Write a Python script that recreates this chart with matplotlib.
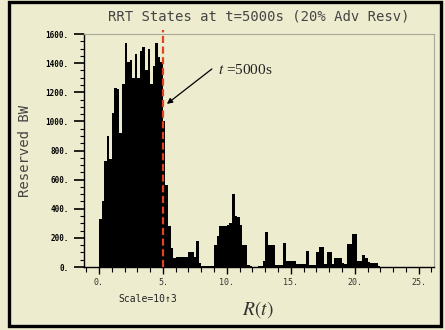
import numpy as np
import matplotlib as mpl
import matplotlib.pyplot as plt
import matplotlib.patches as patches
from matplotlib.ticker import MultipleLocator, FuncFormatter

mpl.rcParams.update({'mathtext.fontset': 'stix'})

##########################################################################
# histogram of reserved BW vs R(t), bins of 0.2 (x 10^3), starting at 0
bin_start = 0.0
bin_width = 0.2
reserved_bw = [
    330, 450, 730, 900, 740, 1060, 1230, 1220, 920, 1260,      # 0.0 - 1.8
    1540, 1410, 1420, 1300, 1460, 1300, 1480, 1510, 1350, 1500,  # 2.0 - 3.8
    1260, 1380, 1540, 1440, 1410, 1000, 560, 280, 130, 60,     # 4.0 - 5.8
    70, 70, 70, 70, 70, 105, 105, 70, 180, 25,                 # 6.0 - 7.8
    10, 8, 8, 8, 10, 150, 210, 280, 280, 280,                  # 8.0 - 9.8
    290, 300, 500, 350, 345, 290, 150, 150, 15, 10,            # 10.0 - 11.8
    0, 0, 5, 5, 40, 240, 150, 150, 150, 15,                    # 12.0 - 13.8
    15, 15, 165, 40, 40, 40, 40, 20, 20, 20,                   # 14.0 - 15.8
    20, 110, 15, 15, 15, 100, 140, 140, 20, 105,               # 16.0 - 17.8
    105, 20, 60, 60, 60, 25, 20, 160, 160, 225,                # 18.0 - 19.8
    225, 40, 40, 80, 60, 35, 25, 25, 25, 10,                   # 20.0 - 21.8
]
x_major_ticks = [0, 5, 10, 15, 20, 25]
y_major_ticks = [0, 200, 400, 600, 800, 1000, 1200, 1400, 1600]
t_mark = 5.0

title = "RRT States at t=5000s (20% Adv Resv)"
ylabel = "Reserved BW"
xlabel = r"$R(t)$"
scale_note = "Scale=10\u21913"
annot = r"$t$ =5000s"

bg = '#eeecce'
mono = ['DejaVu Sans Mono', 'DejaVu Sans']

##########################################################################
fig = plt.figure(figsize=(4.45, 3.30), dpi=100)
fig.patch.set_facecolor(bg)

ax = fig.add_axes([0.1888, 0.1909, 0.7865, 0.706])
ax.set_facecolor(bg)

edges = bin_start + bin_width * np.arange(len(reserved_bw))
ax.bar(edges, reserved_bw, width=bin_width, align='edge', color='black', linewidth=0)

# red dashed marker at t=5000s
ax.plot([t_mark, t_mark], [0, 1628], color='#e2431f', lw=1.6, dashes=(3.2, 1.6), clip_on=False, zorder=5)

ax.annotate("", xy=(5.31, 1120), xytext=(8.83, 1360),
            arrowprops=dict(arrowstyle='-|>', color='black', lw=0.9, mutation_scale=8, shrinkA=0, shrinkB=0))
ax.text(9.3, 1325, annot, fontsize=11, family='Liberation Serif', ha='left', va='baseline', color='#222222')

ax.set_xlim(-1.17, 26.2)
ax.set_ylim(0, 1600)

# spines
for s in ['top', 'right']:
    ax.spines[s].set_color('#a8a898')
    ax.spines[s].set_linewidth(0.8)
for s in ['left', 'bottom']:
    ax.spines[s].set_color('black')
    ax.spines[s].set_linewidth(1.0)

# ticks
ax.set_xticks(x_major_ticks)
ax.xaxis.set_minor_locator(MultipleLocator(1))
ax.set_yticks(y_major_ticks)
ax.yaxis.set_minor_locator(MultipleLocator(50))
fmt = FuncFormatter(lambda v, p: "%d." % v)
ax.xaxis.set_major_formatter(fmt)
ax.yaxis.set_major_formatter(fmt)

ax.tick_params(axis='x', which='major', length=5, width=1.0, pad=3, direction='out', labelsize=6, labelcolor='#333333')
ax.tick_params(axis='x', which='minor', length=3.3, width=0.8, direction='out')
ax.tick_params(axis='y', which='major', length=7.5, width=1.2, pad=3.5, direction='out', labelsize=5.5)
ax.tick_params(axis='y', which='minor', length=3, width=0.8, direction='out')
for lab in ax.get_xticklabels():
    lab.set_family(mono)
for lab in ax.get_yticklabels():
    lab.set_family(mono)
    lab.set_fontweight('bold')

### texts
fig.text(259 / 445, 1 - 17 / 330, title, ha='center', va='center', fontsize=10, family=mono, color='#454545')
fig.text(25 / 445, 1 - 151 / 330, ylabel, ha='center', va='center', rotation=90, fontsize=10, family=mono, color='#454545')
fig.text(258 / 445, 1 - 310 / 330, xlabel, ha='center', va='center', fontsize=14, color='#333333')
fig.text(118 / 445, 1 - 299 / 330, scale_note, ha='left', va='center', fontsize=7, family=mono, color='#222222')

# outer frame
frame = patches.Rectangle((9 / 445, 1 - 325.5 / 330), (440.5 - 9) / 445, (325.5 - 1.5) / 330,
                          transform=fig.transFigure, fill=False, edgecolor='black', lw=2.4)
fig.patches.append(frame)

plt.savefig("out.png", dpi=100, facecolor=bg)
